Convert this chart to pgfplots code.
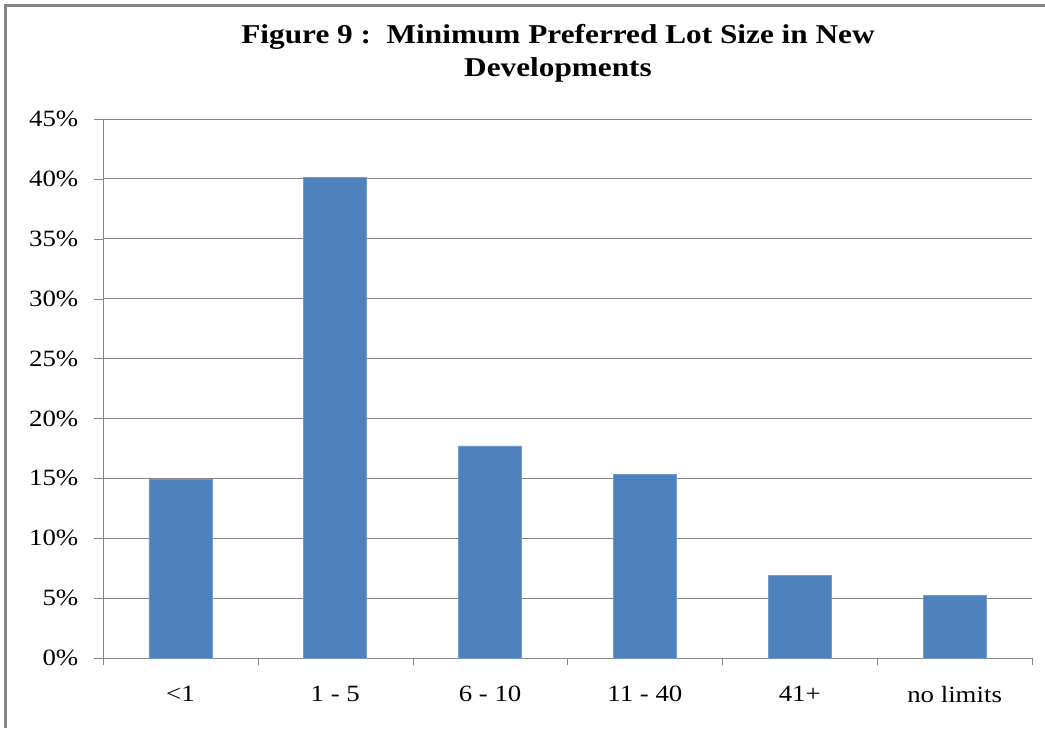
\documentclass[border=0pt]{standalone}
\usepackage{pgfplots}
\pgfplotsset{compat=1.18}
\usepackage{fontspec}
\setmainfont[FakeStretch=1.15]{Liberation Serif}
\definecolor{barblue}{RGB}{79,129,189}
\definecolor{gridgray}{RGB}{134,134,134}
\definecolor{bordergray}{RGB}{134,134,134}
\begin{document}
\begin{tikzpicture}[x=1pt,y=1pt]
\useasboundingbox[fill=white] (0,0) rectangle (783.75,546);
\draw[bordergray,line width=1.6pt] (4.1,0) -- (4.1,541.9) -- (783.75,541.9);
\node[align=center,font=\bfseries\fontsize{20.4}{24.75}\selectfont] at (418.5,505.8) {Figure 9 :\ \ Minimum Preferred Lot Size in New\\Developments};
\begin{axis}[
  at={(77.25pt,52.5pt)}, anchor=south west,
  scale only axis, width=696.75pt, height=404.25pt,
  xmin=-0.5, xmax=5.5, ymin=0, ymax=45,
  axis x line=bottom, axis y line=left,
  axis line style={gridgray,-},
  xtick={0,1,2,3,4,5},
  xticklabels={<1,1 - 5,6 - 10,11 - 40,41+,no limits},
  major x tick style={draw=none},
  minor xtick={-0.5,0.5,1.5,2.5,3.5,4.5,5.5},
  minor x tick style={gridgray},
  minor tick length=5.5pt,
  ytick={0,5,...,45},
  yticklabel={\pgfmathprintnumber{\tick}\%},
  /pgf/number format/assume math mode=true,
  major y tick style={gridgray},
  major tick length=6.5pt,
  tick align=outside,
  ymajorgrids, grid style={gridgray, line width=0.6pt},
  tick label style={font=\fontsize{17.5}{19}\selectfont},
  xticklabel style={yshift=-11pt},
  yticklabel style={xshift=-8.5pt},
  ybar, bar width=47.25pt,
]
\addplot[fill=barblue, draw=barblue!80!white] coordinates {(0,14.9) (1,40.15) (2,17.7) (3,15.3) (4,6.9) (5,5.25)};
\end{axis}
\end{tikzpicture}
\end{document}
